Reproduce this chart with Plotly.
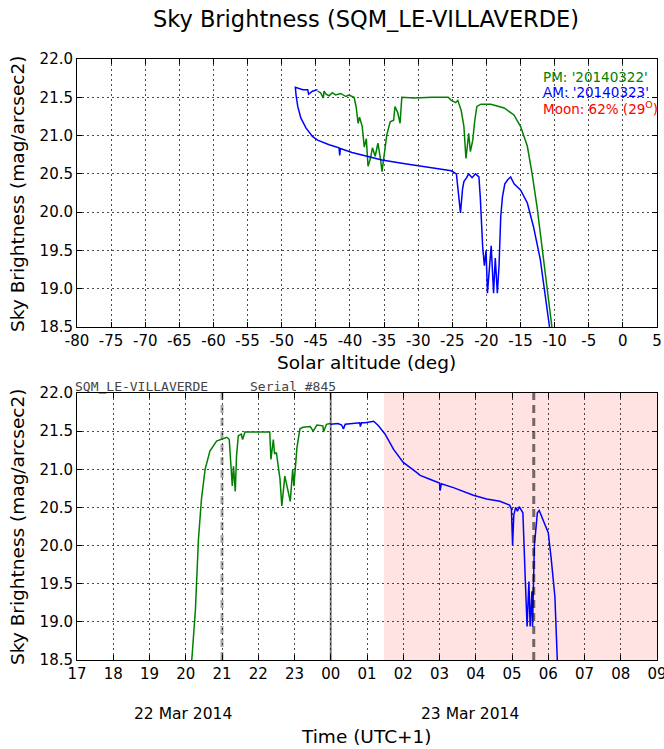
import plotly.graph_objects as go

# ---------------- data ----------------
# Top panel: solar altitude (deg) vs sky brightness (mag/arcsec2)
pm_alt = [-10.4, -11.1, -11.85, -12.58, -13.3, -14.0, -15.0, -15.97, -17.4, -19.35, -20.8, -21.4, -21.7,
          -22.0, -22.35, -22.6, -22.8, -23.0, -23.3, -23.7, -24.2, -24.5, -25.15, -25.6, -28.0, -30.5, -32.4,
          -32.65, -33.0, -33.4, -33.6, -34.1, -34.6, -34.85, -35.3, -35.5, -35.9, -36.3, -36.7, -37.0, -37.35,
          -37.6, -37.9, -38.2, -38.6, -38.8, -39.1, -39.4, -40.15, -40.6, -41.35, -42.1, -42.6, -43.05, -43.5,
          -43.8, -43.9, -44.3, -44.75]
pm_mag = [18.5, 19.03, 19.55, 20.07, 20.5, 20.86, 21.12, 21.27, 21.36, 21.41, 21.41, 21.38, 21.2,
          20.94, 20.79, 21.03, 20.86, 20.7, 21.12, 21.33, 21.46, 21.43, 21.46, 21.5, 21.5, 21.49, 21.5,
          21.16, 21.3, 21.38, 21.2, 21.18, 21.01, 20.81, 20.53, 20.68, 20.9, 20.73, 20.84, 20.7, 20.6,
          20.96, 20.85, 21.12, 21.24, 21.16, 21.38, 21.5, 21.53, 21.51, 21.55, 21.53, 21.56, 21.52, 21.54,
          21.58, 21.49, 21.56, 21.58]

am_alt = [-44.75, -45.5, -46.05, -46.2, -46.9, -47.6, -48.0, -47.9, -47.65, -47.2, -46.45, -45.5, -44.75,
          -43.05, -41.6, -41.5, -41.4, -39.7, -37.25, -35.3, -32.4, -29.5, -27.1, -25.15, -24.4, -24.2,
          -23.8, -23.5, -23.3, -22.9, -22.6, -22.1, -21.6, -21.1, -20.9, -20.55, -20.3, -20.05, -19.85,
          -19.3, -18.95, -18.7, -18.4, -18.15, -17.9, -17.65, -17.3, -16.9, -16.45, -15.95, -15.0, -14.0,
          -13.1, -12.1, -11.4, -10.75]
am_mag = [21.6, 21.58, 21.54, 21.6, 21.6, 21.62, 21.63, 21.53, 21.38, 21.23, 21.1, 20.99, 20.94,
          20.88, 20.84, 20.74, 20.83, 20.78, 20.72, 20.68, 20.64, 20.6, 20.57, 20.54, 20.5, 20.3,
          19.99, 20.3, 20.4, 20.45, 20.5, 20.45, 20.5, 20.46, 20.2, 19.55, 19.3, 19.5, 18.94,
          19.56, 18.94, 19.4, 18.94, 19.3, 19.94, 20.2, 20.37, 20.42, 20.46, 20.37, 20.29, 20.12,
          19.81, 19.38, 18.94, 18.5]

# Bottom panel: local time (UTC+1) vs sky brightness
pm_time = ["2014-03-22 20:10", "2014-03-22 20:16", "2014-03-22 20:21", "2014-03-22 20:26", "2014-03-22 20:32",
           "2014-03-22 20:40", "2014-03-22 20:51", "2014-03-22 21:08", "2014-03-22 21:12", "2014-03-22 21:15",
           "2014-03-22 21:17", "2014-03-22 21:19", "2014-03-22 21:22", "2014-03-22 21:24", "2014-03-22 21:27",
           "2014-03-22 21:32", "2014-03-22 21:34", "2014-03-22 21:38", "2014-03-22 22:00", "2014-03-22 22:19",
           "2014-03-22 22:21", "2014-03-22 22:25", "2014-03-22 22:27", "2014-03-22 22:30", "2014-03-22 22:36",
           "2014-03-22 22:39", "2014-03-22 22:44", "2014-03-22 22:48", "2014-03-22 22:53", "2014-03-22 22:57",
           "2014-03-22 22:59", "2014-03-22 23:04", "2014-03-22 23:09", "2014-03-22 23:14", "2014-03-22 23:26",
           "2014-03-22 23:31", "2014-03-22 23:37", "2014-03-22 23:47", "2014-03-22 23:48", "2014-03-22 23:53",
           "2014-03-22 23:59"]
pm_tmag = [18.5, 19.16, 20.08, 20.61, 21.0,
           21.24, 21.37, 21.42, 21.39, 21.04,
           20.78, 21.04, 20.71, 21.17, 21.44,
           21.46, 21.39, 21.49, 21.49, 21.49,
           21.13, 21.39, 21.2, 21.22, 20.87,
           20.52, 20.91, 20.78, 20.58, 21.0,
           20.78, 21.28, 21.53, 21.55, 21.56,
           21.5, 21.58, 21.57, 21.49, 21.59,
           21.6]

am_time = ["2014-03-23 00:00", "2014-03-23 00:12", "2014-03-23 00:18", "2014-03-23 00:21", "2014-03-23 00:24",
           "2014-03-23 00:36", "2014-03-23 00:48", "2014-03-23 00:49", "2014-03-23 00:51", "2014-03-23 00:57",
           "2014-03-23 01:11", "2014-03-23 01:19", "2014-03-23 01:30", "2014-03-23 01:44", "2014-03-23 02:00",
           "2014-03-23 02:22", "2014-03-23 02:28", "2014-03-23 02:44", "2014-03-23 03:00", "2014-03-23 03:01",
           "2014-03-23 03:03", "2014-03-23 03:23", "2014-03-23 03:56", "2014-03-23 04:18", "2014-03-23 04:40",
           "2014-03-23 04:56", "2014-03-23 04:59", "2014-03-23 05:01", "2014-03-23 05:03", "2014-03-23 05:06",
           "2014-03-23 05:09", "2014-03-23 05:12", "2014-03-23 05:15", "2014-03-23 05:18", "2014-03-23 05:22",
           "2014-03-23 05:23", "2014-03-23 05:25", "2014-03-23 05:28", "2014-03-23 05:30", "2014-03-23 05:33",
           "2014-03-23 05:34", "2014-03-23 05:37", "2014-03-23 05:40", "2014-03-23 05:42", "2014-03-23 05:45",
           "2014-03-23 05:48", "2014-03-23 05:52", "2014-03-23 06:00", "2014-03-23 06:05", "2014-03-23 06:11",
           "2014-03-23 06:15"]
am_tmag = [21.59, 21.6, 21.58, 21.53, 21.59,
           21.6, 21.61, 21.56, 21.61, 21.61,
           21.63, 21.57, 21.46, 21.26, 21.09,
           20.96, 20.92, 20.87, 20.82, 20.72,
           20.81, 20.76, 20.66, 20.61, 20.58,
           20.53, 20.48, 20.0, 20.4, 20.5,
           20.45, 20.51, 20.46, 20.43, 19.55,
           19.29, 18.94, 19.53, 18.94, 19.4,
           18.94, 20.0, 20.3, 20.43, 20.46,
           20.4, 20.34, 20.17, 19.82, 19.33,
           18.5]

alt_ticks = list(range(-80, 10, 5))
mag_ticks = [18.5, 19.0, 19.5, 20.0, 20.5, 21.0, 21.5, 22.0]
moon_start = "2014-03-23 01:28"
twilight_lines = ["2014-03-22 21:00", "2014-03-23 05:36"]
midnight = "2014-03-23 00:00"
t_start, t_end = "2014-03-22 17:00", "2014-03-23 09:00"

# ---------------- figure ----------------
W, H = 664, 749
L, R, T, B = 77, 657, 59, 660
FONT = "DejaVu Sans"


def px(x):
    return (x - L) / (R - L)


def py(y):
    return (B - y) / (B - T)


fig = go.Figure()
fig.add_trace(go.Scatter(x=pm_alt, y=pm_mag, mode="lines", line=dict(color="green", width=1.5),
                         xaxis="x", yaxis="y", showlegend=False))
fig.add_trace(go.Scatter(x=am_alt, y=am_mag, mode="lines", line=dict(color="blue", width=1.5),
                         xaxis="x", yaxis="y", showlegend=False))
fig.add_trace(go.Scatter(x=pm_time, y=pm_tmag, mode="lines", line=dict(color="green", width=1.5),
                         xaxis="x2", yaxis="y2", showlegend=False))
fig.add_trace(go.Scatter(x=am_time, y=am_tmag, mode="lines", line=dict(color="blue", width=1.5),
                         xaxis="x2", yaxis="y2", showlegend=False))

axis_common = dict(showline=True, linecolor="black", linewidth=1, mirror="allticks",
                   ticks="inside", ticklen=5, tickcolor="black",
                   showgrid=True, gridcolor="rgba(0,0,0,0.7)", griddash="2px,3px", gridwidth=1,
                   zeroline=False, automargin=False,
                   tickfont=dict(family=FONT, size=15, color="black"))

top_dom = [py(327), 1.0]
bot_dom = [0.0, py(393)]

fig.update_layout(
    width=W, height=H, autosize=False,
    margin=dict(l=L, r=W - R, t=T, b=H - B, pad=0),
    paper_bgcolor="white", plot_bgcolor="white",
    font=dict(family=FONT, color="black"),
    xaxis=dict(domain=[0, 1], anchor="y", range=[-80, 5], tickvals=alt_ticks,
               ticktext=[str(v) for v in alt_ticks], ticklabeloverflow="allow", **axis_common),
    yaxis=dict(domain=top_dom, anchor="x", range=[18.5, 22.0], tickvals=mag_ticks,
               tickformat=".1f", **axis_common),
    xaxis2=dict(domain=[0, 1], anchor="y2", type="date", range=[t_start, t_end],
                tick0=t_start, dtick=3600000, tickformat="%H", ticklabeloverflow="allow",
                **axis_common),
    yaxis2=dict(domain=bot_dom, anchor="x2", range=[18.5, 22.0], tickvals=mag_ticks,
                tickformat=".1f", **axis_common),
    title=dict(text="Sky Brightness (SQM_LE-VILLAVERDE)", x=px(366), xref="paper", xanchor="center",
               y=1 - 19 / H, yref="container", yanchor="middle",
               font=dict(family=FONT, size=22.5, color="black")),
)

shapes = [
    dict(type="rect", xref="x2", yref="y2", x0=moon_start, x1=t_end, y0=18.5, y1=22.0,
         fillcolor="rgba(255,0,0,0.11)", line=dict(width=0), layer="below"),
    dict(type="line", xref="x2", yref="y2", x0=midnight, x1=midnight, y0=18.5, y1=22.0,
         line=dict(color="#808080", width=2), layer="below"),
    dict(type="line", xref="x2", yref="y2", x0=twilight_lines[0], x1=twilight_lines[0], y0=18.5, y1=22.0,
         line=dict(color="rgba(0,0,0,0.35)", width=3, dash="8px,5px"), layer="below"),
    dict(type="line", xref="x2", yref="y2", x0=twilight_lines[1], x1=twilight_lines[1], y0=18.5, y1=22.0,
         line=dict(color="rgba(0,0,0,0.55)", width=3, dash="8px,5px"), layer="above"),
]
fig.update_layout(shapes=shapes)

ann = []


def add_text(text, x, y, size, color="black", xanchor="center", angle=0, family=FONT):
    ann.append(dict(text=text, x=px(x), y=py(y), xref="paper", yref="paper", showarrow=False,
                    xanchor=xanchor, yanchor="middle", textangle=angle,
                    font=dict(family=family, size=size, color=color)))


add_text("Solar altitude (deg)", 366, 362, 18.5)
add_text("Time (UTC+1)", 366, 737, 18.5)
add_text("Sky Brightness (mag/arcsec2)", 17, 194, 18.5, angle=-90)
add_text("Sky Brightness (mag/arcsec2)", 17, 527, 18.5, angle=-90)
add_text("22 Mar 2014", 183, 714, 15.5)
add_text("23 Mar 2014", 470, 714, 15.5)
add_text("PM: '20140322'", 541, 77, 13.5, color="green", xanchor="left")
add_text("AM: '20140323'", 541, 92, 13.5, color="blue", xanchor="left")
add_text("Moon: 62% (29<sup>O</sup>)", 541, 108, 13.5, color="red", xanchor="left")
add_text("SQM_LE-VILLAVERDE", 73, 386, 13, color="#444444", xanchor="left", family="DejaVu Sans Mono")
add_text("Serial #845", 248, 386, 13, color="#444444", xanchor="left", family="DejaVu Sans Mono")
fig.update_layout(annotations=ann)

post = ("document.documentElement.style.overflow='hidden';"
        "document.body.style.margin='0px';document.body.style.overflow='hidden';"
        "var gd=document.getElementById('{plot_id}');"
        "Plotly.relayout(gd,{width:664,height:749});")

fig.write_html("out.html", config={"displayModeBar": False, "responsive": False},
               post_script=post)
